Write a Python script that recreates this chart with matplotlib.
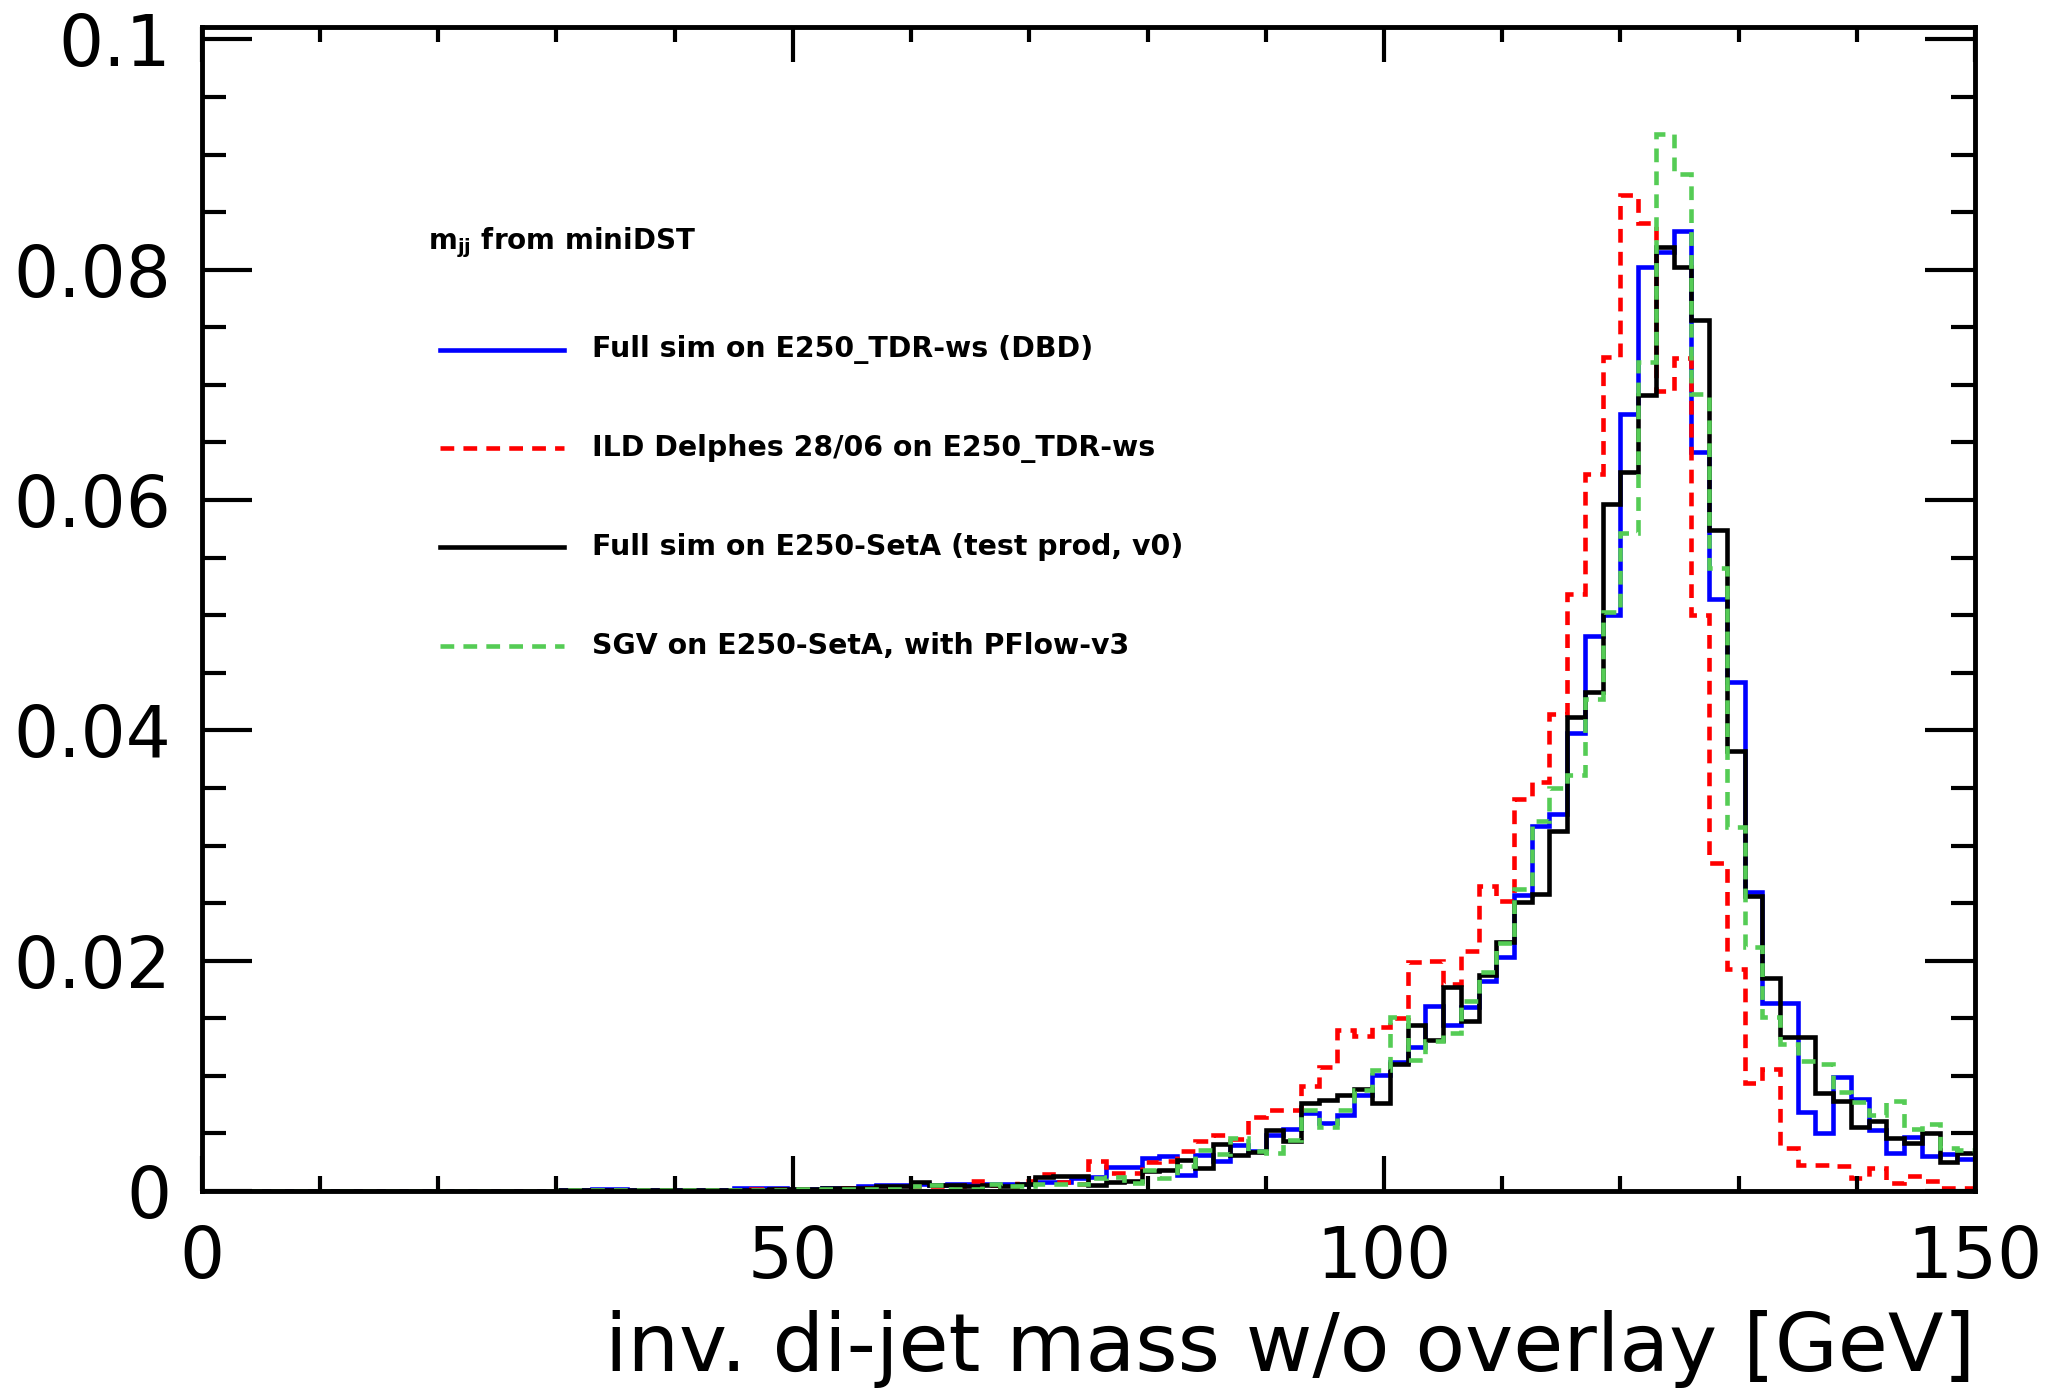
import numpy as np
import matplotlib.pyplot as plt

plt.rcParams['font.family'] = ['DejaVu Sans']
plt.rcParams['mathtext.fontset'] = 'dejavusans'

# 100 bins of 1.5 GeV between 0 and 150 GeV
edges = np.linspace(0, 150, 101)

# bins 0-37 (0-57 GeV) are essentially empty
full_sim_dbd = [0.0]*20 + [0.0001, 0.0001, 0.0002, 0.0002, 0.0001, 0.0001, 0.0001, 0.0001, 0.0001, 0.0001,
                           0.0003, 0.0003, 0.0003, 0.0002, 0.0002, 0.0003, 0.0003, 0.0004] + [
    0.0005, 0.0005, 0.0006, 0.0005, 0.0006, 0.0006, 0.0006, 0.0006, 0.0006, 0.0008,
    0.0008, 0.0011, 0.0012, 0.0021, 0.0021, 0.0029, 0.0030, 0.0014, 0.0031, 0.0026,
    0.0040, 0.0035, 0.0049, 0.0054, 0.0068, 0.0059, 0.0066, 0.0083, 0.0101, 0.0112,
    0.0125, 0.0161, 0.0144, 0.0160, 0.0182, 0.0203, 0.0257, 0.0317, 0.0327, 0.0398,
    0.0482, 0.0500, 0.0675, 0.0802, 0.0815, 0.0834, 0.0642, 0.0514, 0.0442, 0.0260,
    0.0163, 0.0163, 0.0069, 0.0050, 0.0099, 0.0080, 0.0053, 0.0033, 0.0047, 0.0030,
    0.0032, 0.0028]

delphes = [0.0]*20 + [0.0001, 0.0001, 0.0001, 0.0001, 0.0001, 0.0001, 0.0001, 0.0001, 0.0001, 0.0001,
                      0.0001, 0.0002, 0.0002, 0.0002, 0.0002, 0.0002, 0.0003, 0.0003] + [
    0.0003, 0.0003, 0.0004, 0.0004, 0.0004, 0.0009, 0.0005, 0.0003, 0.0009, 0.0015,
    0.0008, 0.0006, 0.0026, 0.0016, 0.0016, 0.0025, 0.0026, 0.0035, 0.0043, 0.0049,
    0.0045, 0.0064, 0.0070, 0.0070, 0.0091, 0.0108, 0.0140, 0.0135, 0.0142, 0.0150,
    0.0199, 0.0200, 0.0180, 0.0208, 0.0265, 0.0252, 0.0340, 0.0355, 0.0414, 0.0518,
    0.0623, 0.0724, 0.0865, 0.0841, 0.0695, 0.0723, 0.0500, 0.0285, 0.0193, 0.0094,
    0.0106, 0.0037, 0.0023, 0.0023, 0.0022, 0.0011, 0.0020, 0.0007, 0.0013, 0.0009,
    0.0003, 0.0003]

full_sim_seta = [0.0]*20 + [0.0001, 0.0001, 0.0001, 0.0001, 0.0001, 0.0001, 0.0001, 0.0001, 0.0001, 0.0001,
                            0.0001, 0.0001, 0.0002, 0.0002, 0.0002, 0.0003, 0.0003, 0.0003] + [
    0.0004, 0.0004, 0.0008, 0.0005, 0.0005, 0.0004, 0.0005, 0.0004, 0.0006, 0.0012,
    0.0013, 0.0013, 0.0005, 0.0008, 0.0009, 0.0017, 0.0018, 0.0027, 0.0020, 0.0041,
    0.0031, 0.0034, 0.0053, 0.0043, 0.0076, 0.0079, 0.0083, 0.0089, 0.0076, 0.0110,
    0.0144, 0.0131, 0.0177, 0.0148, 0.0188, 0.0216, 0.0251, 0.0258, 0.0313, 0.0412,
    0.0433, 0.0597, 0.0624, 0.0691, 0.0820, 0.0802, 0.0756, 0.0574, 0.0382, 0.0256,
    0.0185, 0.0134, 0.0134, 0.0085, 0.0078, 0.0056, 0.0061, 0.0046, 0.0042, 0.0050,
    0.0025, 0.0033]

sgv_pflow = [0.0]*20 + [0.0001, 0.0001, 0.0001, 0.0001, 0.0001, 0.0001, 0.0001, 0.0001, 0.0001, 0.0001,
                        0.0001, 0.0001, 0.0001, 0.0002, 0.0002, 0.0002, 0.0002, 0.0002] + [
    0.0002, 0.0002, 0.0004, 0.0005, 0.0002, 0.0002, 0.0006, 0.0004, 0.0004, 0.0006,
    0.0006, 0.0006, 0.0011, 0.0012, 0.0007, 0.0018, 0.0011, 0.0022, 0.0036, 0.0032,
    0.0046, 0.0035, 0.0033, 0.0044, 0.0070, 0.0056, 0.0070, 0.0088, 0.0105, 0.0151,
    0.0114, 0.0130, 0.0137, 0.0165, 0.0190, 0.0215, 0.0262, 0.0321, 0.0350, 0.0361,
    0.0427, 0.0503, 0.0571, 0.0720, 0.0918, 0.0883, 0.0692, 0.0541, 0.0316, 0.0212,
    0.0151, 0.0128, 0.0113, 0.0110, 0.0086, 0.0077, 0.0066, 0.0078, 0.0054, 0.0058,
    0.0037, 0.0036]

labels = ["Full sim on E250_TDR-ws (DBD)",
          "ILD Delphes 28/06 on E250_TDR-ws",
          "Full sim on E250-SetA (test prod, v0)",
          "SGV on E250-SetA, with PFlow-v3"]
colors = ['#0000ff', '#ff0000', '#000000', '#55cc55']
styles = ['-', (0, (3, 2)), '-', (0, (3, 2))]
series = [full_sim_dbd, delphes, full_sim_seta, sgv_pflow]

fig = plt.figure(figsize=(20.48, 13.93), dpi=100)
ax = fig.add_axes([0.0985, 0.145, 0.8659, 0.8358])

for vals, c, ls in zip(series, colors, styles):
    ax.stairs(vals, edges, color=c, lw=3.3, linestyle=ls)

ax.set_xlim(0, 150)
ax.set_ylim(0, 0.1011)

ax.set_xticks([0, 50, 100, 150])
ax.set_xticklabels(['0', '50', '100', '150'])
ax.set_xticks(np.arange(0, 151, 10), minor=True)
ax.set_yticks([0, 0.02, 0.04, 0.06, 0.08, 0.1])
ax.set_yticklabels(['0', '0.02', '0.04', '0.06', '0.08', '0.1'])
ax.set_yticks(np.arange(0, 0.1001, 0.005), minor=True)

ax.tick_params(which='both', direction='in', top=True, right=True, width=3)
ax.tick_params(axis='y', which='major', length=36, pad=22, labelsize=51)
ax.tick_params(axis='y', which='minor', length=17)
ax.tick_params(axis='x', which='major', length=25, pad=24, labelsize=51)
ax.tick_params(axis='x', which='minor', length=11)
for sp in ax.spines.values():
    sp.set_linewidth(3.5)
    sp.set_zorder(5)

ax.set_xlabel('inv. di-jet mass w/o overlay [GeV]', fontsize=58.5, loc='right')
ax.xaxis.set_label_coords(1.0, -0.102)

# legend, drawn by hand to match the ROOT layout
ax.text(0.1276, 0.8147, r'm$_{\mathbf{jj}}$ from miniDST', transform=ax.transAxes,
        fontsize=20, fontweight='bold', va='center', ha='left')
for i, (lab, c, ls) in enumerate(zip(labels, colors, styles)):
    y = 0.7227 - i * 0.0849
    ax.plot([0.1344, 0.2044], [y, y], transform=ax.transAxes, color=c, lw=3.3, linestyle=ls)
    ax.text(0.2202, y, lab, transform=ax.transAxes, fontsize=20.4, fontweight='bold',
            va='center', ha='left')

fig.savefig('out.png', dpi=100)
